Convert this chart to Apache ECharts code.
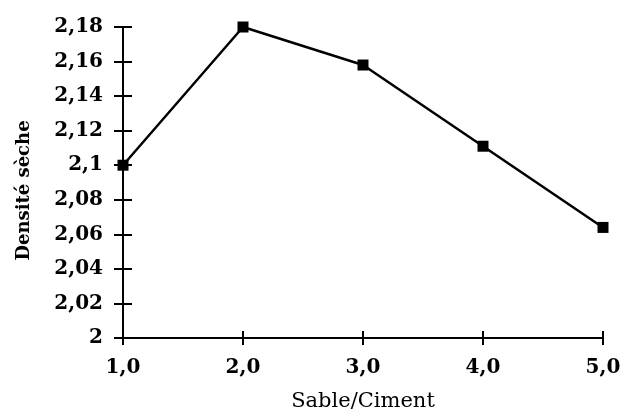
<!DOCTYPE html>
<html>
<head>
<meta charset="utf-8">
<script src="https://cdn.jsdelivr.net/npm/echarts@6/dist/echarts.min.js"></script>
<style>
  html, body { margin: 0; padding: 0; background: #fff; }
  #chart { width: 642px; height: 417px; }
</style>
</head>
<body>
<div id="chart"></div>
<script>
// Sand/cement ratio vs. dry density
const ratios = [1.0, 2.0, 3.0, 4.0, 5.0];
const densities = [2.100, 2.180, 2.158, 2.111, 2.064];
const xTicks = [1, 2, 3, 4, 5];
const yTicks = [2, 2.02, 2.04, 2.06, 2.08, 2.1, 2.12, 2.14, 2.16, 2.18];

const FONT = '"DejaVu Serif", "Liberation Serif", serif';
const fmtX = v => v.toFixed(1).replace('.', ',');
const fmtY = v => String(parseFloat(v.toFixed(2))).replace('.', ',');

const baseX = {
  type: 'value', min: xTicks[0], max: xTicks[xTicks.length - 1], interval: 1,
  axisLine: { lineStyle: { color: '#000', width: 2 } },
  splitLine: { show: false }
};
const baseY = {
  type: 'value', min: yTicks[0], max: yTicks[yTicks.length - 1], interval: 0.02,
  axisLine: { lineStyle: { color: '#000', width: 2 } },
  splitLine: { show: false }
};

const chart = echarts.init(document.getElementById('chart'));
chart.setOption({
  animation: false,
  backgroundColor: '#fff',
  grid: { left: 123, right: 39, top: 27, bottom: 76 },
  xAxis: [
    Object.assign({}, baseX, {
      name: 'Sable/Ciment', nameLocation: 'middle', nameGap: 53,
      nameTextStyle: { fontFamily: FONT, fontSize: 21, color: '#000' },
      axisTick: { show: true, inside: false, length: 7, lineStyle: { color: '#000', width: 2 } },
      axisLabel: { formatter: fmtX, fontFamily: FONT, fontSize: 20, fontWeight: 'bold', color: '#000', margin: 20 }
    }),
    Object.assign({}, baseX, {
      position: 'bottom',
      axisTick: { show: true, inside: true, length: 7, lineStyle: { color: '#000', width: 2 } },
      axisLabel: { show: false }
    })
  ],
  yAxis: [
    Object.assign({}, baseY, {
      name: 'Densité sèche', nameLocation: 'middle', nameGap: 90, nameRotate: 90,
      nameTextStyle: { fontFamily: FONT, fontSize: 18, fontWeight: 'bold', color: '#000', padding: [0, 16, 0, 0] },
      axisTick: { show: true, inside: false, length: 9, lineStyle: { color: '#000', width: 2 } },
      axisLabel: { formatter: fmtY, fontFamily: FONT, fontSize: 20, fontWeight: 'bold', color: '#000', margin: 20 }
    }),
    Object.assign({}, baseY, {
      position: 'left',
      axisTick: { show: true, inside: true, length: 9, lineStyle: { color: '#000', width: 2 } },
      axisLabel: { show: false }
    })
  ],
  series: [{
    type: 'line',
    data: ratios.map((r, i) => [r, densities[i]]),
    symbol: 'rect', symbolSize: 11,
    lineStyle: { color: '#000', width: 2.5 },
    itemStyle: { color: '#000' },
    clip: false
  }]
});
</script>
</body>
</html>
